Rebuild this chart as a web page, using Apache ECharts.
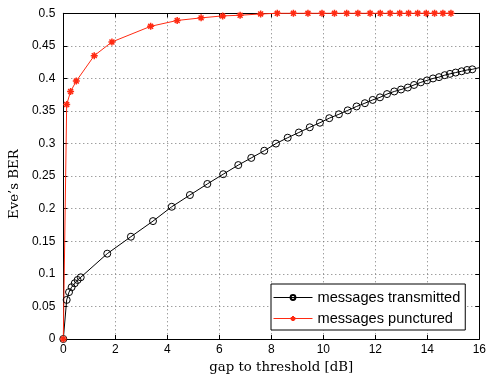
<!DOCTYPE html>
<html>
<head>
<meta charset="utf-8">
<script src="https://cdn.jsdelivr.net/npm/echarts@6/dist/echarts.min.js"></script>
<style>
  html, body { margin: 0; padding: 0; background: #fff; }
  #chart { width: 490px; height: 379px; }
</style>
</head>
<body>
<div id="chart"></div>
<script>
// gap to threshold [dB] / Eve's BER
const transX = [0, 0.13, 0.22, 0.32, 0.44, 0.55, 0.67, 1.69, 2.6, 3.45, 4.17, 4.87, 5.54, 6.15, 6.73,
  7.23, 7.73, 8.18, 8.63, 9.06, 9.48, 9.87, 10.23, 10.6, 10.94, 11.28, 11.6, 11.9, 12.18, 12.45,
  12.73, 12.99, 13.25, 13.49, 13.75, 13.99, 14.22, 14.45, 14.67, 14.87, 15.09, 15.32, 15.53, 15.73, 16.15];
const transY = [0, 0.060, 0.072, 0.0795, 0.0856, 0.0906, 0.0947, 0.131, 0.157, 0.181, 0.203, 0.221, 0.238, 0.253, 0.267,
  0.278, 0.289, 0.300, 0.309, 0.317, 0.325, 0.332, 0.339, 0.345, 0.351, 0.357, 0.362, 0.367, 0.371, 0.376,
  0.380, 0.383, 0.386, 0.390, 0.394, 0.397, 0.400, 0.402, 0.405, 0.407, 0.409, 0.411, 0.413, 0.414, 0.418];

const punctX = [0, 0.13, 0.28, 0.5, 1.19, 1.87, 3.36, 4.38, 5.3, 6.13, 6.8, 7.59, 8.23, 8.85, 9.41,
  9.95, 10.43, 10.9, 11.33, 11.8, 12.19, 12.57, 12.94, 13.28, 13.63, 13.96, 14.28, 14.6, 14.91];
const punctY = [0, 0.36, 0.38, 0.396, 0.435, 0.456, 0.48, 0.489, 0.493, 0.496, 0.497, 0.499, 0.5, 0.5, 0.5,
  0.5, 0.5, 0.5, 0.5, 0.5, 0.5, 0.5, 0.5, 0.5, 0.5, 0.5, 0.5, 0.5, 0.5];

const seriesNames = ['messages transmitted', 'messages punctured'];
const xTicks = [0, 16, 2];    // min, max, interval
const yTicks = [0, 0.5, 0.05];

const zip = (xs, ys) => xs.map((x, i) => [x, ys[i]]);

const RED = '#ff2a12';
const star = 'path://M5,0L5,10M0,5L10,5M1.5,1.5L8.5,8.5M1.5,8.5L8.5,1.5';
const gridLine = { show: true, lineStyle: { color: '#777', type: [1, 3], width: 1 } };
const frame = { show: true, onZero: false, lineStyle: { color: '#000', width: 1 } };
const inTick = { show: true, inside: true, length: 4, lineStyle: { color: '#000' } };
const tickFont = { color: '#000', fontSize: 12, fontFamily: 'Liberation Sans' };

let chart = echarts.init(document.getElementById('chart'));
let option = {
  animation: false,
  grid: { left: 63.3, right: 10.7, top: 13.3, bottom: 36.7 },
  legend: {
    data: seriesNames,
    orient: 'vertical',
    left: 271, top: 284,
    padding: [5, 5, 3, 2],
    itemWidth: 39, itemHeight: 6, itemGap: 4,
    backgroundColor: '#fff',
    borderColor: '#000', borderWidth: 1, borderRadius: 0,
    lineStyle: { width: 1 },
    textStyle: { color: '#000', fontSize: 14.6, fontFamily: 'Liberation Sans', lineHeight: 17 }
  },
  xAxis: [{
    type: 'value', min: xTicks[0], max: xTicks[1], interval: xTicks[2],
    position: 'bottom',
    name: 'gap to threshold [dB]', nameLocation: 'middle', nameGap: 22,
    nameTextStyle: { color: '#000', fontSize: 13.3, fontFamily: 'DejaVu Serif', padding: [0, 0, 0, 20] },
    axisLine: frame, axisTick: inTick, splitLine: gridLine,
    axisLabel: Object.assign({ margin: 5 }, tickFont)
  }, {
    type: 'value', min: xTicks[0], max: xTicks[1], interval: xTicks[2],
    position: 'top',
    axisLine: frame, axisTick: inTick, splitLine: { show: false }, axisLabel: { show: false }
  }],
  yAxis: [{
    type: 'value', min: yTicks[0], max: yTicks[1], interval: yTicks[2],
    position: 'left',
    name: 'Eve\u2019s BER', nameLocation: 'middle', nameGap: 42,
    nameTextStyle: { color: '#000', fontSize: 13.3, fontFamily: 'DejaVu Serif', padding: [0, 16, 0, 0] },
    axisLine: frame, axisTick: inTick, splitLine: gridLine,
    axisLabel: Object.assign({ margin: 8 }, tickFont)
  }, {
    type: 'value', min: yTicks[0], max: yTicks[1], interval: yTicks[2],
    position: 'right',
    axisLine: frame, axisTick: inTick, splitLine: { show: false }, axisLabel: { show: false }
  }],
  series: [
    {
      name: seriesNames[0],
      type: 'line',
      data: zip(transX, transY),
      clip: true,
      symbol: 'circle', symbolSize: 7,
      lineStyle: { color: '#000', width: 1 },
      itemStyle: { color: 'rgba(0,0,0,0)', borderColor: '#000', borderWidth: 1 }
    },
    {
      name: seriesNames[1],
      type: 'line',
      data: zip(punctX, punctY),
      clip: false,
      symbol: star, symbolSize: 7,
      lineStyle: { color: RED, width: 1 },
      itemStyle: { color: RED, borderColor: RED, borderWidth: 1.5 }
    }
  ]
};
chart.setOption(option);
</script>
</body>
</html>
